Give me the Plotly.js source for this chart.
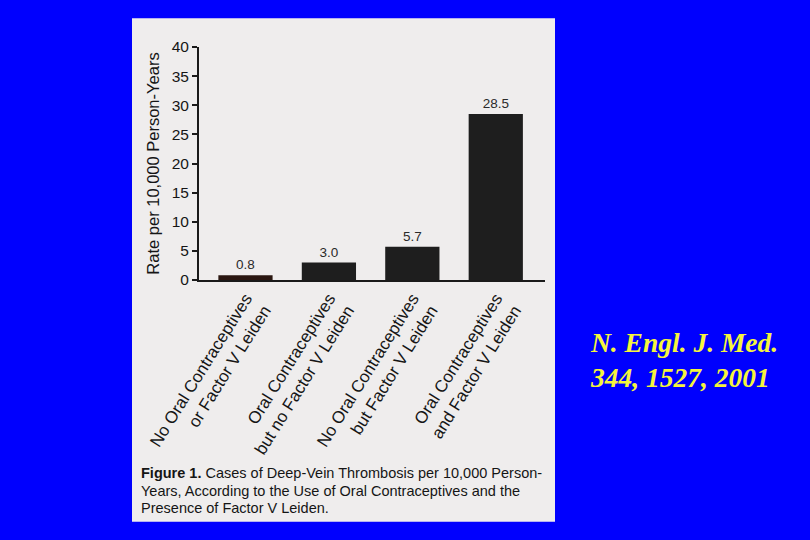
<!DOCTYPE html>
<html>
<head>
<meta charset="utf-8">
<script src="https://cdn.plot.ly/plotly-3.0.1.min.js"></script>
<style>html,body{margin:0;padding:0;background:#0000fe;}#chart{width:810px;height:540px;}</style>
</head>
<body>
<div id="chart"></div>
<script>
const categories = [
  "No Oral Contraceptives<br>or Factor V Leiden",
  "Oral Contraceptives<br>but no Factor V Leiden",
  "No Oral Contraceptives<br>but Factor V Leiden",
  "Oral Contraceptives<br>and Factor V Leiden"
];
const rates = [0.8, 3.0, 5.7, 28.5];
const rateLabels = ["0.8", "3.0", "5.7", "28.5"];
const yTicks = [0, 5, 10, 15, 20, 25, 30, 35, 40];
const captionLines = [
  "<b>Figure 1.</b> Cases of Deep-Vein Thrombosis per 10,000 Person-",
  "Years, According to the Use of Oral Contraceptives and the",
  "Presence of Factor V Leiden."
];
const sourceLines = ["N. Engl. J. Med.", "344, 1527, 2001"];

const ink = "#1e1e1e";
const txt = "#151515";
const trace = {
  type: "bar",
  x: categories,
  y: rates,
  text: rateLabels,
  textposition: "outside",
  cliponaxis: false,
  textfont: {family: "Liberation Sans, Arial", size: 13.5, color: "#2a2a2a"},
  marker: {color: ["#2a1610", ink, ink, ink], line: {width: 0}},
  width: 0.65,
  hoverinfo: "none"
};

const W = 346, H = 233.3; // plot area px
const px = (p) => (p - 199) / W;
const py = (p) => (280 - p) / H;

const captionY = [473, 491, 508];
const sourceY = [343, 378];
const annotations = [];
captionLines.forEach((t, i) => annotations.push({
  xref: "paper", yref: "paper", x: px(139), y: py(captionY[i]),
  xanchor: "left", yanchor: "middle", align: "left", showarrow: false,
  font: {family: "Liberation Sans, Arial", size: 14.5, color: txt},
  text: t
}));
sourceLines.forEach((t, i) => annotations.push({
  xref: "paper", yref: "paper", x: px(588), y: py(sourceY[i]),
  xanchor: "left", yanchor: "middle", align: "left", showarrow: false,
  font: {family: "Liberation Serif, Times New Roman", size: 27.5, color: "#f5f53c"},
  text: "<b><i>" + t + "</i></b>"
}));

const layout = {
  width: 810, height: 540,
  margin: {l: 199, r: 265, t: 46.7, b: 260},
  paper_bgcolor: "#0000fe",
  plot_bgcolor: "rgba(0,0,0,0)",
  showlegend: false,
  font: {family: "Liberation Sans, Arial", color: txt},
  xaxis: {
    type: "category",
    range: [-0.557, 3.59],
    showline: true, linecolor: "#1a1a1a", linewidth: 2,
    ticks: "", tickangle: -58,
    tickfont: {family: "Liberation Sans, Arial", size: 17, color: txt},
    showgrid: false, zeroline: false, fixedrange: true
  },
  yaxis: {
    range: [0, 40],
    tickvals: yTicks,
    ticktext: yTicks.map(String),
    showline: true, linecolor: "#1a1a1a", linewidth: 2,
    ticks: "outside", ticklen: 5, tickwidth: 2, tickcolor: "#1a1a1a",
    tickfont: {family: "Liberation Sans, Arial", size: 15.5, color: txt},
    showgrid: false, zeroline: false,
    title: {text: "Rate per 10,000 Person-Years", font: {family: "Liberation Sans, Arial", size: 16.5, color: txt}, standoff: 8}
  },
  shapes: [{
    type: "rect", xref: "paper", yref: "paper", layer: "below",
    x0: px(132), x1: px(555), y0: py(522), y1: py(18),
    fillcolor: "#efeded", line: {width: 0}
  }],
  annotations: annotations
};

Plotly.newPlot("chart", [trace], layout, {staticPlot: true, displayModeBar: false});
</script>
</body>
</html>
